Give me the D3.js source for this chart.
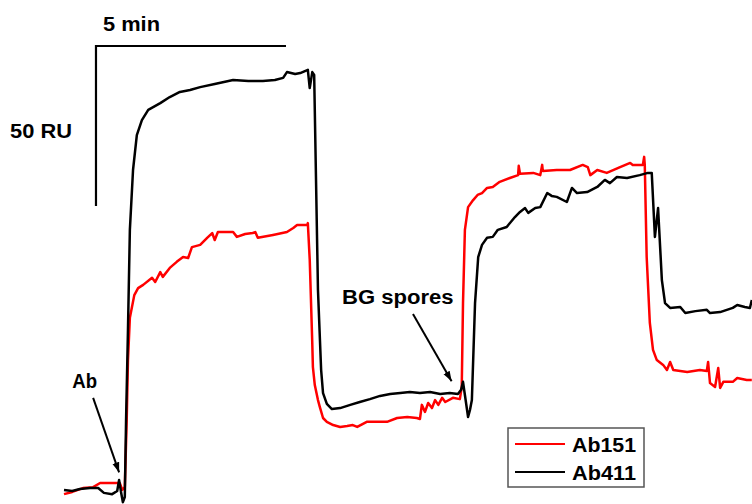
<!DOCTYPE html>
<html>
<head>
<meta charset="utf-8">
<script src="https://cdn.jsdelivr.net/npm/d3@7"></script>
<style>
  body { margin: 0; background: #fff; }
  svg text { font-family: "Liberation Sans", Arial, sans-serif; font-weight: bold; fill: #000; }
</style>
</head>
<body>
<svg id="chart" width="752" height="504"></svg>
<script>
// time in seconds, response in RU
const ab151_t = [0,13,30,46,57,73,88,92,96,99,101,104,111,117,125,139,144,152,156,167,178,188,196,202,215,226,234,238,243,267,273,286,298,302,306,330,352,362,368,384,385,388,392,393,396,401,404,409,415,425,436,447,456,463,478,494,510,526,542,557,562,565,570,575,581,586,591,597,602,614,625,628,630,633,638,646,653,660,668,677,688,704,717,718,720,741,752,755,756,778,799,819,827,831,842,857,878,894,898,914,916,917,920,925,930,936,946,952,957,962,984,1004,1015,1017,1020,1028,1033,1036,1041,1056,1063,1078,1086];
const ab151_ru = [-1.3,-0.6,0.6,0.9,2.2,2.2,2.2,0,0.9,21.9,40.6,53.8,60.9,63.1,64.1,66.3,65,68.1,66.6,69.4,71.3,72.8,72.5,75.9,76.6,78.8,80.3,78.1,80.6,80.6,79.1,80,80.3,80.6,78.8,79.7,80.6,81.9,82.8,82.8,83.4,71.9,45.9,38.4,32.8,28.1,25.9,22.5,21.3,20.3,19.7,20,20.3,19.7,21.3,21.3,21.3,22.5,22.8,22.5,22.2,26.6,24.4,27.2,25.6,28.1,26.6,28.8,27.5,28.8,28.4,32.2,58.4,81.3,88.4,90.6,92.2,92.8,94.4,94.7,96.3,97.5,98.4,101.3,98.8,99.1,98.4,101.6,99.7,100,100,101.6,100.9,98.4,100,99.1,100.9,102.2,101.6,101.6,104.1,101.6,72.8,52.2,43.8,40.6,39.1,37.5,40,37.5,36.9,37.5,37.2,40,33.4,32.2,38.1,31.9,33.8,33.8,35,34.4,34.4];

const ab411_t = [0,13,25,41,54,63,76,84,87,90,93,96,98,101,104,109,115,123,133,152,167,183,199,215,238,267,291,314,333,346,352,365,373,385,388,392,395,401,406,409,415,423,436,452,467,483,499,515,531,546,562,578,594,609,622,627,630,633,638,641,644,649,654,660,668,677,685,699,712,720,728,733,744,752,763,770,778,794,802,810,826,842,854,862,873,889,909,922,928,933,938,944,949,957,973,981,997,1015,1020,1036,1056,1063,1075,1083,1086];
const ab411_ru = [0,-0.3,0.3,0.6,0.6,-0.9,-1.3,-0.3,3.1,-0.6,-3.8,-2.2,21.9,50,81.3,100,110.9,115.6,118.8,120.9,122.8,124.4,125,125.9,126.9,128.1,127.8,127.8,128.1,128.8,130.6,130,130.3,131.3,125.6,130.6,129.7,62.5,37.5,30.3,26.9,25.3,25.6,26.6,27.5,28.4,29.4,30,30.3,30.6,30.3,30.6,30,30.3,30,31.3,33.8,29.7,22.8,25,28.1,58.4,72.8,76.6,78.8,79.1,81.3,82.2,85.3,86.9,88.1,86.6,88.1,88.4,92.8,91.9,91.6,90,94.4,92.8,93.1,94.7,96.9,95.9,97.8,97.5,98.4,99.1,99.1,79.1,88.1,65.6,58.4,56.9,57.2,55.3,55.9,56.3,55.3,55.6,56.9,57.8,57.2,56.9,59.4];

const seriesNames = ["Ab151", "Ab411"];
const seriesColors = ["#ff0000", "#000000"];

// scale bar: 5 min by 50 RU, anchored at (50 s, 138.75 RU)
const barOrigin = [50.5, 138.75];
const barLen = [300, 50];
const barLabels = ["5 min", "50 RU"];

// annotation labels with arrow [from, to] in data units
const notes = [
  {label: "Ab", text: [13, 32], from: [46, 28.8], to: [87, 5.5]},
  {label: "BG spores", text: [439, 58], from: [551, 55], to: [612, 34]}
];

const svg = d3.select("#chart"),
    width = +svg.attr("width"),
    height = +svg.attr("height");

const x = d3.scaleLinear().domain([0, 1086.3]).range([64, 752]);
const y = d3.scaleLinear().domain([0, 153.125]).range([490, 0]);

const line = d3.line()
    .x(d => x(d[0]))
    .y(d => y(d[1]));

const series = [
  d3.zip(ab151_t, ab151_ru),
  d3.zip(ab411_t, ab411_ru)
];

// draw red first, black on top
series.forEach((s, i) => {
  svg.append("path")
      .datum(s)
      .attr("d", line)
      .attr("fill", "none")
      .attr("stroke", seriesColors[i])
      .attr("stroke-width", 2.5)
      .attr("stroke-linejoin", "round");
});

// scale bar
svg.append("path")
    .attr("d", d3.line()([
      [x(barOrigin[0] + barLen[0]), y(barOrigin[1])],
      [x(barOrigin[0]), y(barOrigin[1])],
      [x(barOrigin[0]), y(barOrigin[1] - barLen[1])]
    ]))
    .attr("fill", "none")
    .attr("stroke", "#000")
    .attr("stroke-width", 2.2);

svg.append("text")
    .attr("x", x(barOrigin[0]) + 7)
    .attr("y", y(barOrigin[1]) - 15)
    .attr("font-size", 20)
    .attr("textLength", 57)
    .attr("lengthAdjust", "spacingAndGlyphs")
    .text(barLabels[0]);

svg.append("text")
    .attr("x", 10)
    .attr("y", 138)
    .attr("font-size", 20)
    .attr("textLength", 62)
    .attr("lengthAdjust", "spacingAndGlyphs")
    .text(barLabels[1]);

// arrows
svg.append("defs").append("marker")
    .attr("id", "arrow")
    .attr("viewBox", "0 0 10 10")
    .attr("refX", 10)
    .attr("refY", 5)
    .attr("markerWidth", 10)
    .attr("markerHeight", 10)
    .attr("markerUnits", "userSpaceOnUse")
    .attr("orient", "auto")
    .append("path")
    .attr("d", "M0,1.5 L10,5 L0,8.5 Z")
    .attr("fill", "#000");

notes.forEach(n => {
  svg.append("line")
      .attr("x1", x(n.from[0])).attr("y1", y(n.from[1]))
      .attr("x2", x(n.to[0])).attr("y2", y(n.to[1]))
      .attr("stroke", "#000")
      .attr("stroke-width", 2)
      .attr("marker-end", "url(#arrow)");
  svg.append("text")
      .attr("x", x(n.text[0]))
      .attr("y", y(n.text[1]))
      .attr("font-size", 20)
      .attr("textLength", n.label.length * 12.4)
      .attr("lengthAdjust", "spacingAndGlyphs")
      .text(n.label);
});

// legend
const legend = svg.append("g").attr("transform", "translate(508,428)");
legend.append("rect")
    .attr("width", 136)
    .attr("height", 59)
    .attr("fill", "#fff")
    .attr("stroke", "#555")
    .attr("stroke-width", 1.5);

seriesNames.forEach((name, i) => {
  legend.append("line")
      .attr("x1", 7).attr("x2", 57)
      .attr("y1", 16 + i * 28).attr("y2", 16 + i * 28)
      .attr("stroke", seriesColors[i])
      .attr("stroke-width", 2);
  legend.append("text")
      .attr("x", 64)
      .attr("y", 24 + i * 28)
      .attr("font-size", 20)
      .attr("textLength", 64)
      .attr("lengthAdjust", "spacingAndGlyphs")
      .text(name);
});
</script>
</body>
</html>
